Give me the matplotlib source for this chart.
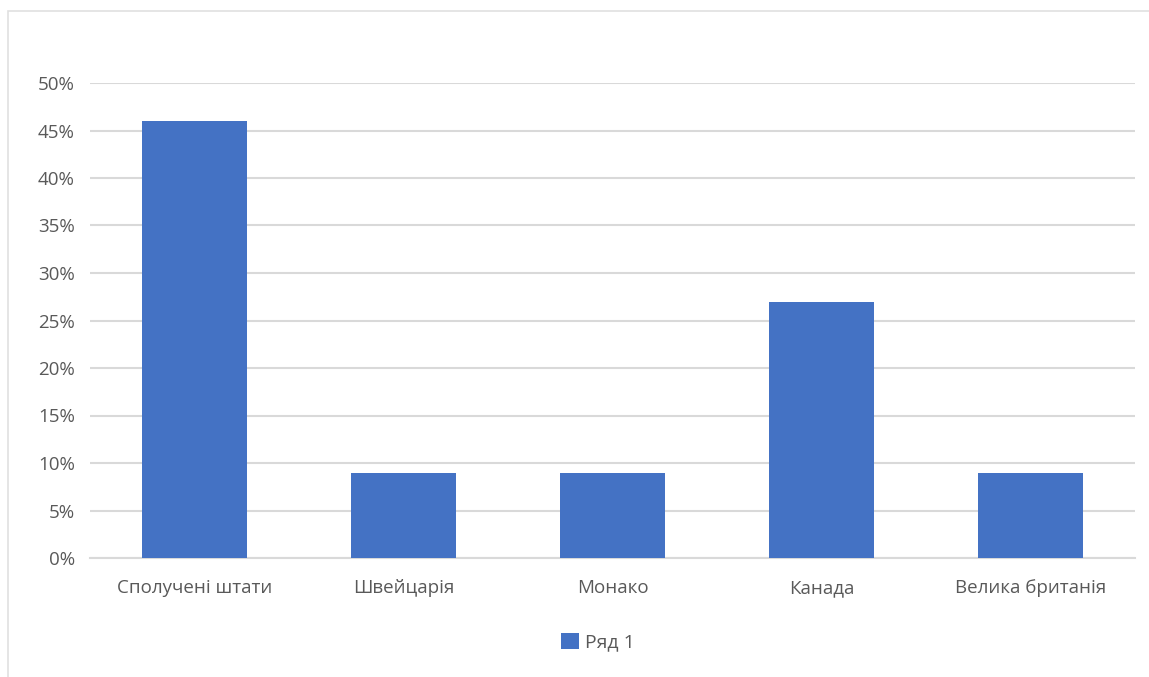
import matplotlib.pyplot as plt
from matplotlib.patches import Rectangle
from matplotlib.ticker import PercentFormatter

plt.rcParams["font.family"] = ["Open Sans", "DejaVu Sans"]

countries = ["Сполучені штати", "Швейцарія", "Монако", "Канада", "Велика британія"]
values = [0.46, 0.09, 0.09, 0.27, 0.09]
series_name = "Ряд 1"

bar_color = "#4472C4"
grid_color = "#D9D9D9"
text_color = "#595959"

W, H = 1149, 677
fig = plt.figure(figsize=(W / 100, H / 100), dpi=100)
ax = fig.add_axes([90 / W, 1 - 558 / H, (1135 - 90) / W, (558 - 83) / H])

x = range(len(countries))
bars = ax.bar(x, values, width=0.5, color=bar_color, label=series_name, zorder=3)

ax.set_xlim(-0.5, len(countries) - 0.5)
ax.set_ylim(0, 0.5)
ax.set_yticks([i * 0.05 for i in range(11)])
ax.yaxis.set_major_formatter(PercentFormatter(1.0, decimals=0))
ax.set_xticks(list(x))
ax.set_xticklabels(countries)

ax.grid(axis="y", color=grid_color, linewidth=1.5, zorder=0)
ax.grid(axis="x", visible=False)
for side in ["top", "right", "left"]:
    ax.spines[side].set_visible(False)
ax.spines["bottom"].set_color(grid_color)
ax.spines["bottom"].set_linewidth(1.5)
ax.tick_params(axis="both", length=0, colors=text_color, labelsize=13.5)
ax.tick_params(axis="y", pad=11)
ax.tick_params(axis="x", pad=15)

fig.legend(
    handles=[bars],
    labels=[series_name],
    loc="center",
    bbox_to_anchor=(598 / W, 1 - 642 / H),
    frameon=False,
    fontsize=14,
    labelcolor=text_color,
    handlelength=0.9,
    handleheight=0.9,
    handletextpad=0.3,
)

# chart border (partly outside the image)
fig.patches.append(Rectangle((8 / W, -0.1), 1.2, 1 - 11 / H + 0.1,
                             transform=fig.transFigure, fill=False,
                             edgecolor="#E0E0E0", linewidth=1.2))

fig.savefig("out.png", dpi=100)
